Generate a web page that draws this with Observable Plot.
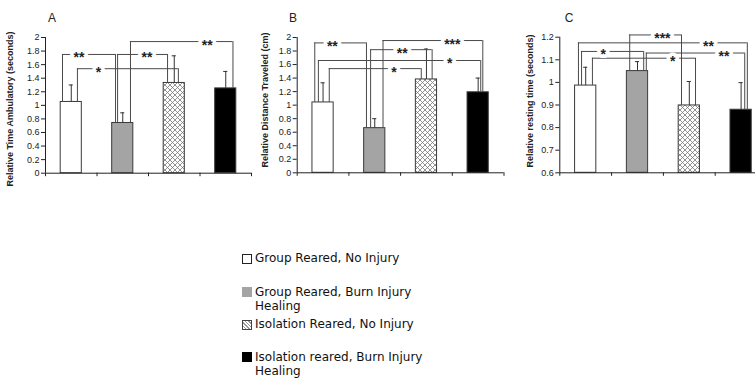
<!DOCTYPE html>
<html>
<head>
<meta charset="utf-8">
<script src="https://cdn.jsdelivr.net/npm/d3@7"></script>
<script src="https://cdn.jsdelivr.net/npm/@observablehq/plot@0.6"></script>
<style>
  body { margin: 0; background: #fff; overflow: hidden; }
  #fig { position: relative; width: 755px; height: 380px; overflow: hidden; font-family: "Liberation Sans", Arial, sans-serif; color: #222; }
  .panel { position: absolute; top: 0; }
  .letter { position: absolute; font-size: 12px; line-height: 12px; transform: translate(-50%, -50%); }
  .ytitle { position: absolute; font-size: 9px; font-weight: bold; white-space: nowrap; transform: translate(-50%, -50%) rotate(-90deg); }
  .item { position: absolute; left: 242px; display: flex; align-items: flex-start; font-family: "DejaVu Sans", Verdana, sans-serif; font-size: 12px; line-height: 14px; color: #111; }
  .swatch { width: 8px; height: 8px; margin-top: 2.5px; margin-right: 3px; box-sizing: content-box; flex: none; }
  .label { width: 172px; }
</style>
</head>
<body>
<svg width="0" height="0" style="position:absolute">
  <defs>
    <pattern id="xhatch" patternUnits="userSpaceOnUse" width="5" height="5">
      <rect width="5" height="5" fill="#fff"></rect>
      <path d="M0,0L5,5M5,0L0,5" stroke="#777" stroke-width="0.8" fill="none"></path>
    </pattern>
  </defs>
</svg>
<div id="fig"></div>
<script>
// Treatment groups, in bar order
const groups = [
  "Group Reared, No Injury",
  "Group Reared, Burn Injury Healing",
  "Isolation Reared, No Injury",
  "Isolation reared, Burn Injury Healing"
];

// A: relative time ambulatory (seconds)
const ambulatoryMean = [1.05, 0.74, 1.33, 1.25];
const ambulatorySem = [0.25, 0.15, 0.40, 0.25];
const ambulatoryTicks = [0, 0.2, 0.4, 0.6, 0.8, 1, 1.2, 1.4, 1.6, 1.8, 2];
const ambulatorySig = [
  {from: 0, to: 1, level: 1.75, stars: "**", legs: [0.33, 1.36], at: 0.65},
  {from: 0, to: 2, level: 1.54, stars: "*", legs: [0.62, 2.58], at: 1.03},
  {from: 1, to: 2, level: 1.75, stars: "**", legs: [1.40, 2.37], at: 1.97},
  {from: 1, to: 3, level: 1.94, stars: "**", legs: [1.65, 3.64], at: 3.14}
];

// B: relative distance traveled (cm)
const distanceMean = [1.04, 0.66, 1.38, 1.19];
const distanceSem = [0.29, 0.14, 0.45, 0.21];
const distanceTicks = [0, 0.2, 0.4, 0.6, 0.8, 1, 1.2, 1.4, 1.6, 1.8, 2];
const distanceSig = [
  {from: 0, to: 1, level: 1.92, stars: "**", legs: [0.34, 1.34], at: 0.68},
  {from: 1, to: 2, level: 1.82, stars: "**", legs: [1.42, 2.61], at: 2.03},
  {from: 1, to: 3, level: 1.955, stars: "***", legs: [1.66, 3.59], at: 3.0},
  {from: 0, to: 3, level: 1.66, stars: "*", legs: [0.41, 3.55], at: 2.95},
  {from: 0, to: 2, level: 1.54, stars: "*", legs: [0.62, 2.40], at: 1.87}
];

// C: relative resting time (seconds)
const restingMean = [0.986, 1.05, 0.898, 0.879];
const restingSem = [0.081, 0.042, 0.106, 0.12];
const restingTicks = [0.6, 0.7, 0.8, 0.9, 1, 1.1, 1.2];
const restingSig = [
  {from: 0, to: 3, level: 1.175, stars: "**", legs: [0.36, 3.62], at: 2.87},
  {from: 1, to: 2, level: 1.21, stars: "***", legs: [1.35, 2.35], at: 1.98},
  {from: 0, to: 1, level: 1.137, stars: "*", legs: [0.42, 1.62], at: 0.84},
  {from: 1, to: 3, level: 1.13, stars: "**", legs: [1.67, 3.57], at: 3.17},
  {from: 0, to: 2, level: 1.107, stars: "*", legs: [0.63, 2.62], at: 2.18}
];

const FILLS = ["#ffffff", "#a4a4a4", "url(#xhatch)", "#000000"];
const HALF = 0.205;   // half bar width, in group units
const CAP = 0.04;     // half error-bar cap width
const fig = document.getElementById("fig");

function drawPanel(cfg) {
  const y0 = cfg.ticks[0];
  const y1 = cfg.ticks[cfg.ticks.length - 1];
  const rows = cfg.mean.map((m, i) => ({i, m, tip: m + cfg.sem[i]}));
  const legs = cfg.sig.flatMap(s => [
    {x: s.legs[0], lo: cfg.mean[s.from], hi: s.level},
    {x: s.legs[1], lo: cfg.mean[s.to], hi: s.level}
  ]);
  const svg = Plot.plot({
    width: cfg.width,
    height: 200,
    marginTop: cfg.top,
    marginBottom: 200 - cfg.bottom,
    marginLeft: cfg.ml,
    marginRight: cfg.mr,
    style: {fontFamily: "'Liberation Sans', Arial, sans-serif", fontSize: "9px", color: "#222", overflow: "visible", background: "transparent"},
    x: {domain: [0, 4]},
    y: {domain: [y0, y1]},
    color: {type: "identity"},
    marks: [
      Plot.rect(rows, {x1: d => d.i + 0.5 - HALF, x2: d => d.i + 0.5 + HALF, y1: y0, y2: "m", fill: d => FILLS[d.i], stroke: "#3a3a3a", strokeWidth: 1}),
      Plot.ruleX(rows, {x: d => d.i + 0.5, y1: "m", y2: "tip", stroke: "#333"}),
      Plot.ruleY(rows, {y: "tip", x1: d => d.i + 0.5 - CAP, x2: d => d.i + 0.5 + CAP, stroke: "#333"}),
      Plot.ruleX(legs, {x: "x", y1: "lo", y2: "hi", stroke: "#4a4a4a"}),
      Plot.ruleY(cfg.sig, {y: "level", x1: s => s.legs[0], x2: s => s.legs[1], stroke: "#4a4a4a"}),
      Plot.text(cfg.sig, {x: "at", y: "level", text: "stars", fontSize: 14, fontWeight: "bold", fill: "#222", stroke: "#fff", strokeWidth: 7, dy: 3.5}),
      Plot.ruleX([0], {y1: y0, y2: y1, stroke: "#222"}),
      Plot.ruleY([y0], {x1: 0, x2: 4, stroke: "#222"}),
      Plot.axisY({ticks: cfg.ticks, tickSize: 4, tickPadding: 2, tickFormat: d => String(d), label: null, stroke: "#222"}),
      Plot.axisX({ticks: [0, 1, 2, 3, 4], tickSize: 3.5, tickFormat: () => "", label: null, stroke: "#222"})
    ]
  });
  svg.classList.add("panel");
  svg.style.left = cfg.left + "px";
  fig.appendChild(svg);

  const letter = document.createElement("div");
  letter.className = "letter";
  letter.textContent = cfg.letter;
  letter.style.left = cfg.letterX + "px";
  letter.style.top = "18px";
  fig.appendChild(letter);

  const title = document.createElement("div");
  title.className = "ytitle";
  title.textContent = cfg.title;
  title.style.left = cfg.titleX + "px";
  title.style.top = cfg.titleY + "px";
  fig.appendChild(title);
}

drawPanel({letter: "A", title: "Relative Time Ambulatory (seconds)", mean: ambulatoryMean, sem: ambulatorySem, ticks: ambulatoryTicks, sig: ambulatorySig,
  left: 0, width: 253, ml: 45, mr: 2, top: 37, bottom: 172.7, letterX: 52, titleX: 10, titleY: 109});
drawPanel({letter: "B", title: "Relative Distance Traveled (cm)", mean: distanceMean, sem: distanceSem, ticks: distanceTicks, sig: distanceSig,
  left: 250, width: 255, ml: 46.7, mr: 1.5, top: 37, bottom: 172.3, letterX: 293, titleX: 265, titleY: 100});
drawPanel({letter: "C", title: "Relative resting time (seconds)", mean: restingMean, sem: restingSem, ticks: restingTicks, sig: restingSig,
  left: 500, width: 270, ml: 59.3, mr: 3.5, top: 36.7, bottom: 172.3, letterX: 569, titleX: 530, titleY: 101});

// Legend
const swatchStyles = [
  {background: "#fff", border: "1px solid #222"},
  {background: "#a4a4a4", border: "1px solid #a4a4a4"},
  {background: "repeating-linear-gradient(45deg, #fff 0 1.5px, #999 1.5px 2.5px), #fff", border: "1px solid #444"},
  {background: "#000", border: "1px solid #000"}
];
const itemTops = [251.3, 284.7, 317.3, 349.7];
groups.forEach((g, i) => {
  const item = document.createElement("div");
  item.className = "item";
  item.style.top = itemTops[i] + "px";
  const sw = document.createElement("div");
  sw.className = "swatch";
  sw.style.background = swatchStyles[i].background;
  sw.style.border = swatchStyles[i].border;
  const label = document.createElement("div");
  label.className = "label";
  label.textContent = g;
  item.appendChild(sw);
  item.appendChild(label);
  fig.appendChild(item);
});
</script>
</body>
</html>
